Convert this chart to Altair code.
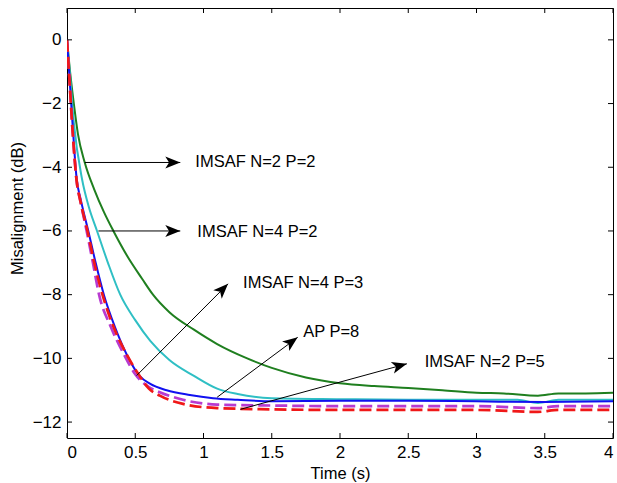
import math
import altair as alt
import pandas as pd

# ---------------- data ----------------
t_green = [0, 0.02, 0.05, 0.08, 0.13, 0.2, 0.27, 0.34, 0.45, 0.55, 0.63, 0.75, 0.93, 1.1, 1.32, 1.5, 1.75, 2.0, 2.25, 2.5, 2.75, 3.0, 3.2, 3.45, 3.6, 3.8, 4.0]
v_green = [0, -0.9, -2.0, -2.95, -3.85, -4.7, -5.4, -6.0, -6.85, -7.5, -8.0, -8.55, -9.1, -9.55, -10.0, -10.3, -10.6, -10.78, -10.87, -10.93, -11.0, -11.08, -11.1, -11.17, -11.1, -11.1, -11.08]

t_cyan = [0, 0.02, 0.05, 0.11, 0.16, 0.22, 0.3, 0.39, 0.5, 0.61, 0.75, 0.93, 1.1, 1.25, 1.5, 2.0, 2.5, 3.0, 3.3, 3.45, 3.6, 4.0]
v_cyan = [0, -1.0, -2.6, -4.37, -5.25, -6.0, -7.0, -8.0, -8.8, -9.45, -10.05, -10.55, -10.95, -11.12, -11.25, -11.28, -11.3, -11.3, -11.3, -11.4, -11.3, -11.3]

t_blue = [0, 0.02, 0.04, 0.071, 0.1, 0.156, 0.21, 0.27, 0.35, 0.44, 0.53, 0.61, 0.73, 0.9, 1.07, 1.25, 1.5, 2.0, 2.5, 3.0, 3.5, 4.0]
v_blue = [0, -1.3, -2.6, -4.37, -5.0, -6.0, -7.0, -8.0, -9.0, -9.9, -10.54, -10.8, -11.0, -11.15, -11.25, -11.3, -11.35, -11.33, -11.33, -11.35, -11.37, -11.35]

t_mag = [0, 0.02, 0.04, 0.07, 0.1, 0.144, 0.19, 0.235, 0.32, 0.42, 0.5, 0.6, 0.68, 0.85, 1.1, 1.5, 2.0, 2.5, 3.0, 3.45, 3.6, 4.0]
v_mag = [0, -1.4, -2.8, -4.4, -5.1, -6.0, -7.0, -8.0, -9.0, -9.9, -10.5, -10.9, -11.06, -11.3, -11.45, -11.48, -11.5, -11.5, -11.5, -11.56, -11.5, -11.5]

t_red = [0, 0.02, 0.04, 0.07, 0.1, 0.15, 0.2, 0.26, 0.34, 0.44, 0.53, 0.6, 0.68, 0.85, 1.1, 1.5, 2.0, 2.5, 3.0, 3.45, 3.6, 4.0]
v_red = [0, -1.4, -2.8, -4.4, -5.1, -6.0, -7.0, -8.0, -9.0, -9.9, -10.54, -10.95, -11.17, -11.43, -11.56, -11.6, -11.62, -11.62, -11.62, -11.68, -11.62, -11.62]

# annotations: arrow start, arrow tip, label position, label text
arrow_x1 = [0.13, 0.23, 0.51, 1.10, 1.27]
arrow_y1 = [-3.85, -6.0, -10.54, -11.22, -11.6]
arrow_x2 = [0.83, 0.83, 1.18, 1.69, 2.49]
arrow_y2 = [-3.85, -6.0, -7.66, -9.34, -10.17]
label_x = [0.94, 0.955, 1.29, 1.73, 2.62]
label_y = [-3.83, -6.03, -7.63, -9.18, -10.12]
label_text = ["IMSAF N=2 P=2", "IMSAF N=4 P=2", "IMSAF N=4 P=3", "AP P=8", "IMSAF N=2 P=5"]

x_ticks = [0, 0.5, 1, 1.5, 2, 2.5, 3, 3.5, 4]
y_ticks = [-12, -10, -8, -6, -4, -2, 0]

# ---------------- layout ----------------
W, H = 546, 430
X_DOM = [0, 4]
Y_DOM = [-12.5, 1]
FONT = "Liberation Sans, Arial, Helvetica, sans-serif"
AX_LABEL = 17
AX_TITLE = 16.5

xs = alt.Scale(domain=X_DOM, nice=False, zero=False)
ys = alt.Scale(domain=Y_DOM, nice=False, zero=False)

x_axis = alt.Axis(values=x_ticks, format="~g", title="Time (s)",
                  titleY=40, titleBaseline="alphabetic",
                  labelFontSize=AX_LABEL, titleFontSize=AX_TITLE, labelPadding=6)
y_axis = alt.Axis(values=y_ticks, format="d", title="Misalignment (dB)",
                  titleX=-50, titleY=200, titleAngle=270,
                  titleAlign="center", titleBaseline="middle",
                  labelFontSize=AX_LABEL, titleFontSize=AX_TITLE, labelPadding=6)

def curve(t, v, color, dash=None, width=2.0):
    df = pd.DataFrame({"t": t, "v": v})
    kw = dict(color=color, strokeWidth=width, interpolate="monotone", clip=True)
    if dash:
        kw["strokeDash"] = dash
    return alt.Chart(df).mark_line(**kw).encode(
        x=alt.X("t:Q", scale=xs, axis=x_axis),
        y=alt.Y("v:Q", scale=ys, axis=y_axis),
    )

lines = [
    curve(t_green, v_green, "#1f7f1f"),
    curve(t_cyan, v_cyan, "#2fbfc4"),
    curve(t_blue, v_blue, "#1010f0"),
    curve(t_mag, v_mag, "#b83ad0", dash=[12, 5], width=2.7),
    curve(t_red, v_red, "#f01818", dash=[12, 5], width=2.7),
]

# arrows
px_per_x = W / (X_DOM[1] - X_DOM[0])
px_per_y = H / (Y_DOM[1] - Y_DOM[0])
angles = []
for a, b, c, d in zip(arrow_x1, arrow_y1, arrow_x2, arrow_y2):
    dxp = (c - a) * px_per_x
    dyp = -(d - b) * px_per_y
    ang = math.degrees(math.atan2(dxp, -dyp)) % 360
    angles.append(ang)

arr = pd.DataFrame({"x1": arrow_x1, "y1": arrow_y1, "x2": arrow_x2, "y2": arrow_y2, "ang": angles})
arrow_lines = alt.Chart(arr).mark_rule(color="black", strokeWidth=1).encode(
    x=alt.X("x1:Q", scale=xs), y=alt.Y("y1:Q", scale=ys), x2="x2:Q", y2="y2:Q"
)
HEAD = "M0,0 L0.8,2 L0,1.5 L-0.8,2 Z"
arrow_heads = alt.Chart(arr).mark_point(shape=HEAD, filled=True, size=225, color="black",
                                        opacity=1, strokeWidth=0).encode(
    x=alt.X("x2:Q", scale=xs), y=alt.Y("y2:Q", scale=ys),
    angle=alt.Angle("ang:Q", scale=None),
)

lab = pd.DataFrame({"x": label_x, "y": label_y, "text": label_text})
labels = alt.Chart(lab).mark_text(align="left", baseline="middle", fontSize=16.5,
                                   font=FONT, color="black").encode(
    x=alt.X("x:Q", scale=xs), y=alt.Y("y:Q", scale=ys), text="text:N"
)

# inward ticks (MATLAB style) on all four sides
xt = pd.DataFrame({"t": x_ticks})
yt = pd.DataFrame({"v": y_ticks})
TL = 5
tick_bottom = alt.Chart(xt).mark_rule(color="black", strokeWidth=1).encode(
    x=alt.X("t:Q", scale=xs), y=alt.value(H - TL), y2=alt.value(H))
tick_top = alt.Chart(xt).mark_rule(color="black", strokeWidth=1).encode(
    x=alt.X("t:Q", scale=xs), y=alt.value(0), y2=alt.value(TL))
tick_left = alt.Chart(yt).mark_rule(color="black", strokeWidth=1).encode(
    y=alt.Y("v:Q", scale=ys), x=alt.value(0), x2=alt.value(TL))
tick_right = alt.Chart(yt).mark_rule(color="black", strokeWidth=1).encode(
    y=alt.Y("v:Q", scale=ys), x=alt.value(W - TL), x2=alt.value(W))

chart = alt.layer(
    *lines, arrow_lines, arrow_heads, labels,
    tick_bottom, tick_top, tick_left, tick_right
).properties(
    width=W, height=H,
    padding={"left": 67, "top": 8, "right": 4, "bottom": 45},
    autosize=alt.AutoSizeParams(type="none"),
    background="white",
).configure_view(
    stroke="black", strokeWidth=1
).configure_axis(
    domain=False, grid=False, ticks=False, tickSize=0,
    labelFont=FONT, labelFontSize=AX_LABEL, labelColor="black",
    titleFont=FONT, titleFontSize=AX_TITLE, titleFontWeight="normal", titleColor="black",
)

chart.save("out.html", embed_options={"renderer": "svg", "actions": False})
